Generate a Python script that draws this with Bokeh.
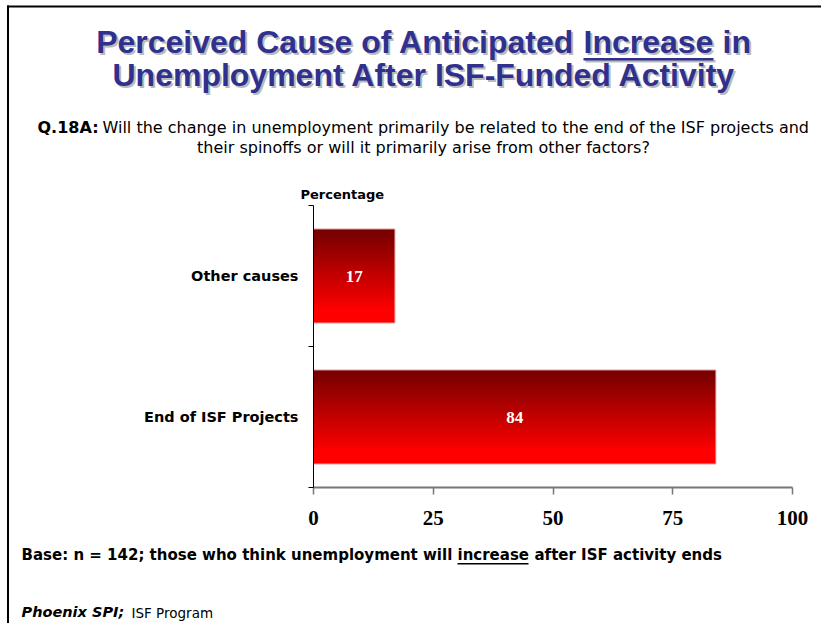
from bokeh.plotting import figure
from bokeh.models import Range1d, FixedTicker, ColumnDataSource
from bokeh.core.properties import value
from bokeh.embed import file_html
from bokeh.resources import INLINE

# ---------------- data ----------------
categories = ["Other causes", "End of ISF Projects"]
values = [17, 84]
x_ticks = [0, 25, 50, 75, 100]
title_line1 = ["Perceived Cause of Anticipated", "Increase", "in"]
title_line2 = "Unemployment After ISF-Funded Activity"
question_tag = "Q.18A:"
question_line1 = "Will the change in unemployment primarily be related to the end of the ISF projects and"
question_line2 = "their spinoffs or will it primarily arise from other factors?"
axis_caption = "Percentage"
base_parts = ["Base: n = 142; those who think unemployment will", "increase", "after ISF activity ends"]
source_parts = ["Phoenix SPI;", "ISF Program"]

# ---------------- layout constants (page pixels) ----------------
PAGE_W, PAGE_H = 821, 623
FRAME_L, FRAME_R, FRAME_T, FRAME_B = 313, 792, 205, 487

# ---------------- page layer: texts and slide border ----------------
page = figure(width=PAGE_W, height=PAGE_H, output_backend="svg", toolbar_location=None,
              x_range=Range1d(0, PAGE_W), y_range=Range1d(PAGE_H, 0),
              x_axis_location=None, y_axis_location=None,
              min_border=0, min_border_left=0, min_border_right=0,
              min_border_top=0, min_border_bottom=0)
page.outline_line_color = None
page.grid.visible = False
page.background_fill_color = "white"
page.border_fill_color = "white"


def txt(s, x, base, size, font="DejaVu Sans", style="normal", color="black", align="left", alpha=1.0):
    # base = wanted baseline in page pixels; the text is anchored on its middle
    page.text(x=[x], y=[base - 0.36 * size], text=[s], text_font=value(font), text_font_size=f"{size}px",
              text_font_style=style, text_color=color, text_align=align,
              text_baseline="middle", text_alpha=alpha)


TITLE_C = "#30318f"
SH = "#a3a3a3"
for d, col, a in [(2, SH, 0.75), (0, TITLE_C, 1.0)]:
    txt(title_line1[0], 574 + d, 53 + d, 32, "Liberation Sans", "bold", col, "right", a)
    txt(title_line1[1], 583 + d, 53 + d, 32, "Liberation Sans", "bold", col, "left", a)
    txt(title_line1[2], 722 + d, 53 + d, 32, "Liberation Sans", "bold", col, "left", a)
    txt(title_line2, 424 + d, 86 + d, 32, "Liberation Sans", "bold", col, "center", a)
    page.quad(left=[583 + d], right=[713 + d], top=[57.5 + d], bottom=[60 + d],
              fill_color=col, fill_alpha=a, line_color=None)

txt(question_tag, 37, 133, 16, "DejaVu Sans", "bold")
txt(question_line1, 102, 133, 16, "DejaVu Sans")
txt(question_line2, 423, 153, 16, "DejaVu Sans", align="center")
txt(axis_caption, 300, 199, 13, "DejaVu Sans", "bold")

txt(base_parts[0], 21, 560, 15, "DejaVu Sans", "bold")
txt(base_parts[1], 457, 560, 15, "DejaVu Sans", "bold")
txt(base_parts[2], 534, 560, 15, "DejaVu Sans", "bold")
page.quad(left=[457], right=[528], top=[562.5], bottom=[564], fill_color="black", line_color=None)
txt(source_parts[0], 21, 617, 14.5, "DejaVu Sans", "bold italic")
txt(source_parts[1], 131, 617, 13.5, "DejaVu Sans")

# slide border (left and top edges)
page.quad(left=[6.5], right=[PAGE_W + 5], top=[5], bottom=[7], fill_color="black", line_color=None)
page.quad(left=[6.5], right=[8.5], top=[5], bottom=[PAGE_H + 5], fill_color="black", line_color=None)

# ---------------- chart layer (overlaid, transparent) ----------------
n_cat = len(categories)
chart = figure(width=PAGE_W, height=PAGE_H, output_backend="svg", toolbar_location=None,
               x_range=Range1d(0, 100), y_range=Range1d(0, n_cat),
               min_border_left=FRAME_L, min_border_right=PAGE_W - FRAME_R,
               min_border_top=FRAME_T, min_border_bottom=PAGE_H - FRAME_B,
               styles={"position": "absolute", "left": "0px", "top": "0px"})
chart.outline_line_color = None
chart.xgrid.visible = False
chart.ygrid.visible = False
chart.background_fill_alpha = 0
chart.border_fill_alpha = 0

bar_h = 0.667
n_slices = 48
step = bar_h / n_slices
centers = [n_cat - 1 - i + 0.5 for i in range(n_cat)]
ys, rights, cols, hs = [], [], [], []
for c, v in zip(centers, values):
    bar_top = c + bar_h / 2
    for k in reversed(range(n_slices)):      # paint bottom slices first
        t = (k + 0.5) / n_slices               # 0 top -> 1 bottom
        f = min(1.0, t / 0.85)
        r = int(round(118 + (255 - 118) * f))
        top_k = bar_top - k * step
        ext = 2 * step if k < n_slices - 1 else step
        ys.append(top_k - ext / 2)
        hs.append(ext)
        rights.append(v)
        cols.append("#%02x0000" % r)

src = ColumnDataSource(dict(y=ys, right=rights, color=cols, h=hs))
chart.hbar(y="y", left=0, right="right", height="h", fill_color="color", line_color=None, source=src)

bar_src = ColumnDataSource(dict(y=centers, right=values, lbl=[str(v) for v in values],
                                mid=[v / 2 for v in values]))
chart.hbar(y="y", left=0, right="right", height=bar_h, fill_color=None,
           line_color="#e6a0a0", line_width=1, source=bar_src)
chart.text(x="mid", y="y", text="lbl", source=bar_src, text_font=value("Liberation Serif"),
           text_font_style="bold", text_font_size="17px", text_color="white",
           text_align="center", text_baseline="middle")

xa = chart.xaxis[0]
xa.ticker = FixedTicker(ticks=x_ticks, minor_ticks=[])
xa.axis_line_color = "#777777"
xa.axis_line_width = 2
xa.major_tick_line_color = "#777777"
xa.major_tick_line_width = 1.5
xa.major_tick_out = 7
xa.major_tick_in = 0
xa.major_label_standoff = 16
xa.major_label_text_font = "Liberation Serif"
xa.major_label_text_font_style = "bold"
xa.major_label_text_font_size = "21px"
xa.major_label_text_color = "black"

ya = chart.yaxis[0]
ya.ticker = FixedTicker(ticks=centers, minor_ticks=list(range(n_cat + 1)))
ya.major_label_overrides = {c: cat for c, cat in zip(centers, categories)}
ya.axis_line_color = "black"
ya.axis_line_width = 1
ya.major_tick_out = 0
ya.major_tick_in = 0
ya.minor_tick_out = 5
ya.minor_tick_in = 0
ya.minor_tick_line_color = "black"
ya.major_label_standoff = 10
ya.major_label_text_font = "DejaVu Sans"
ya.major_label_text_font_style = "bold"
ya.major_label_text_font_size = "14.5px"
ya.major_label_text_color = "black"

open("out.html", "w").write(file_html([page, chart], INLINE))
